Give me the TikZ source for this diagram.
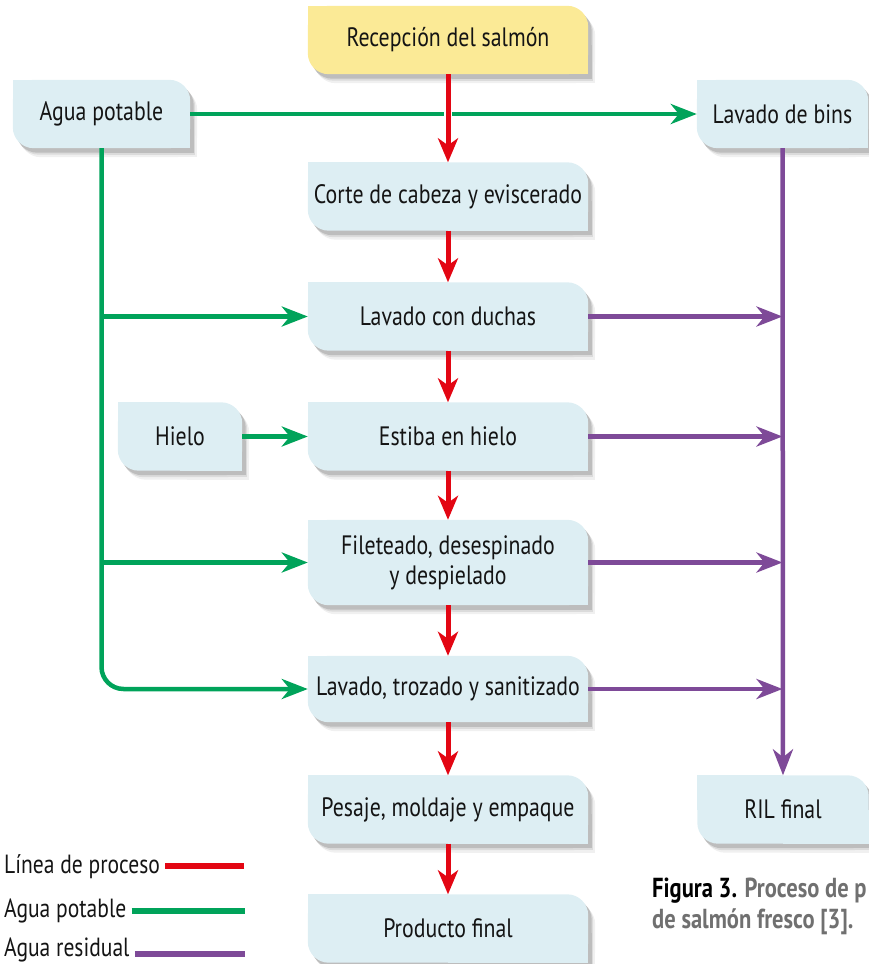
\documentclass[tikz,border=0pt]{standalone}
\usepackage{fontspec}
\setmainfont{PT Sans}[FakeStretch=0.82]
\usetikzlibrary{arrows.meta,calc}
\definecolor{boxblue}{RGB}{221,238,243}
\definecolor{boxyel}{RGB}{251,234,150}
\definecolor{procred}{RGB}{227,6,19}
\definecolor{potgreen}{RGB}{0,163,90}
\definecolor{respurple}{RGB}{126,74,152}
\definecolor{capgray}{RGB}{112,112,112}
\pgfdeclarelayer{bg}
\pgfsetlayers{bg,main}
\newcommand\shp[4]{%
 \fill[#2,rounded corners=21pt] ([shift={(#3,#4)}]#1.south west) rectangle ([shift={(#3,#4)}]#1.north east);
 \fill[#2] ([shift={(#3,#4)}]#1.north west) rectangle ([shift={(#3,#4)}]#1.center);
 \fill[#2] ([shift={(#3,#4)}]#1.center) rectangle ([shift={(#3,#4)}]#1.south east);
}
\begin{document}
\begin{tikzpicture}[x=1pt,y=-1pt,
  box/.style={inner sep=0pt, align=center, font=\fontsize{26.6}{30}\selectfont, text=black!92},
  proc/.style={box, minimum width=280pt, minimum height=68pt},
  legend/.style={inner sep=0pt, font=\fontsize{26.3}{30}\selectfont, text=black!92},
  redln/.style={procred, line width=5pt, -{Stealth[length=24pt,width=20pt,inset=7pt]}},
  greenln/.style={potgreen, line width=4.5pt, -{Stealth[length=26pt,width=20pt,inset=8pt]}},
  purpln/.style={respurple, line width=4.5pt, -{Stealth[length=26pt,width=20pt,inset=8pt]}}]
\useasboundingbox (0,0) rectangle (869,964);
\clip (0,0) rectangle (869,964);

% nodes
\node[proc] (rec) at (448,40) {Recepción del salmón};
\node[box, minimum width=177pt, minimum height=68pt] (agua) at (101.5,114) {Agua potable};
\node[box, minimum width=171pt, minimum height=68pt] (bins) at (782.5,114) {Lavado de bins};
\node[proc] (corte) at (448,196.5) {Corte de cabeza y eviscerado};
\node[proc] (duchas) at (448,316.5) {Lavado con duchas};
\node[box, minimum width=124pt, minimum height=68pt] (hielo) at (180,436.5) {Hielo};
\node[proc] (estiba) at (448,436.5) {Estiba en hielo};
\node[proc, minimum height=85pt] (filet) at (448,562.5) {Fileteado, desespinado\\ y despielado};
\node[proc, minimum height=66pt] (lavtroz) at (448,689) {Lavado, trozado y sanitizado};
\node[proc] (pesaje) at (448,809.5) {Pesaje, moldaje y empaque};
\node[box, minimum width=171pt, minimum height=68pt] (ril) at (783,809.5) {RIL final};
\node[proc] (prod) at (448,928.5) {Producto final};

% box shapes
\begin{pgfonlayer}{bg}
\foreach \n in {rec,agua,bins,corte,duchas,hielo,estiba,filet,lavtroz,pesaje,ril,prod}{
  \shp{\n}{black!6}{7pt}{-9pt}
  \shp{\n}{black!14}{5pt}{-6.5pt}
  \shp{\n}{black!26}{3.5pt}{-4.5pt}
}
\shp{rec}{boxyel}{0pt}{0pt}
\foreach \n in {agua,bins,corte,duchas,hielo,estiba,filet,lavtroz,pesaje,ril,prod}{
  \shp{\n}{boxblue}{0pt}{0pt}
}
\end{pgfonlayer}

% green (potable water)
\draw[greenln] (agua.east) -- (bins.west);
\draw[greenln, rounded corners=22pt] (agua.south) |- (lavtroz.west);
\draw[greenln] (agua.south |- duchas.west) -- (duchas.west);
\draw[greenln] (agua.south |- filet.west) -- (filet.west);
\draw[greenln] (hielo.east) -- (estiba.west);

% purple (waste water)
\draw[purpln] (bins.south) -- (ril.north);
\foreach \n in {duchas,estiba,filet,lavtroz}{
  \draw[purpln] (\n.east) -- (\n.east -| bins.south);
}

% red (process line)
\draw[white, line width=8pt] ($(rec.south)+(0,30)$) -- ($(rec.south)+(0,50)$);
\draw[redln] (rec) -- (corte);
\draw[redln] (corte) -- (duchas);
\draw[redln] (duchas) -- (estiba);
\draw[redln] (estiba) -- (filet);
\draw[redln] (filet) -- (lavtroz);
\draw[redln] (lavtroz) -- (pesaje);
\draw[redln] (pesaje) -- (prod);

% legend
\node[legend, anchor=base west] (l1) at (4,873) {Línea de proceso};
\node[legend, anchor=base west] (l2) at (4,917) {Agua potable};
\node[legend, anchor=base west] (l3) at (4,956.5) {Agua residual};
\coordinate (l1e) at (244,866);
\coordinate (l2e) at (245,911);
\coordinate (l3e) at (245,954);
\draw[procred, line width=6pt] ($(l1.east |- l1e)+(5,0)$) -- (l1e);
\draw[potgreen, line width=5.5pt] ($(l2.east |- l2e)+(5,0)$) -- (l2e);
\draw[respurple, line width=6pt] ($(l3.east |- l3e)+(5,0)$) -- (l3e);

% caption
\node[anchor=base west, inner sep=0pt, align=left, font=\bfseries\fontsize{27.5}{31}\selectfont] (cap) at (652,928)
  {Figura 3. \textcolor{capgray}{Proceso de p}\\\textcolor{capgray}{de salmón fresco [3].}};
\end{tikzpicture}
\end{document}
